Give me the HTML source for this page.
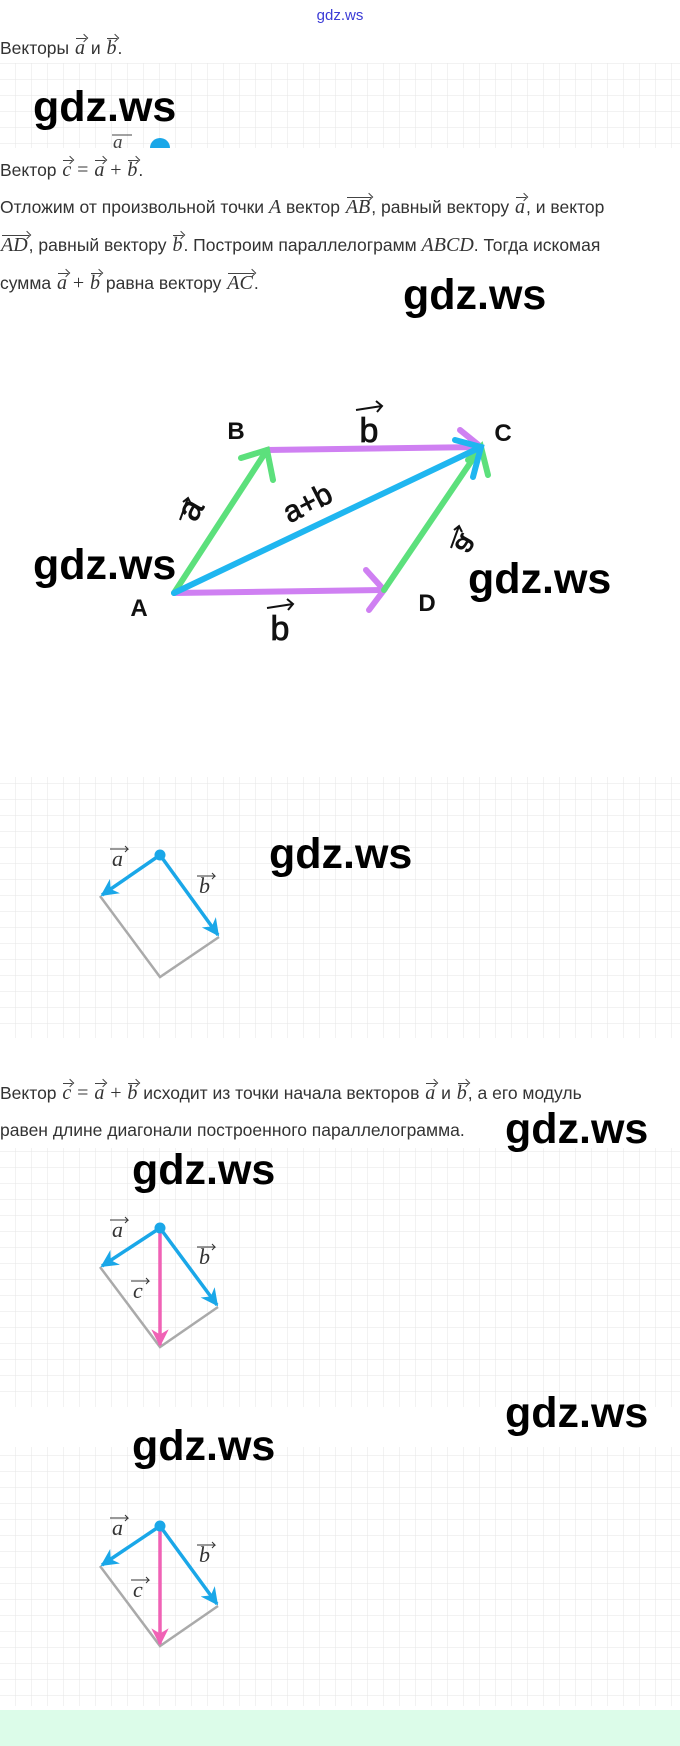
<!DOCTYPE html>
<html><head><meta charset="utf-8">
<style>
body{margin:0;width:680px;height:1746px;position:relative;background:#fff;overflow:hidden;font-family:"Liberation Sans",sans-serif;color:#333}
.t{position:absolute;left:0;font-size:17.5px;white-space:nowrap;line-height:20px}
.v{position:relative;font-family:"Liberation Serif",serif;font-style:italic;font-size:20px;display:inline-block;padding:0 1px}
.v::after{content:"";position:absolute;left:2px;right:0;top:0;border-top:1px solid #444}
.v::before{content:"";position:absolute;right:-1px;top:-3px;width:5px;height:5px;border-right:1px solid #444;border-top:1px solid #444;transform:rotate(45deg)}
.m{font-family:"Liberation Serif",serif;font-style:italic;font-size:20px}
.wm{position:absolute;font-size:43px;font-weight:bold;color:#000;line-height:46px;font-family:"Liberation Sans",sans-serif}
</style></head><body>
<svg width="680" height="1746" style="position:absolute;left:0;top:0">
<defs>
<pattern id="g" width="16" height="16" patternUnits="userSpaceOnUse"><path d="M16 0V16M0 16H16" stroke="#e6e6e6" stroke-width="1" fill="none"/></pattern>
<marker id="bl" viewBox="0 0 10 10" refX="9" refY="5" markerWidth="5" markerHeight="5" orient="auto"><path d="M0 0L10 5L0 10L3 5Z" fill="#1aa7e8"/></marker>
<marker id="pk" viewBox="0 0 10 10" refX="9" refY="5" markerWidth="5" markerHeight="5" orient="auto"><path d="M0 0L10 5L0 10L3 5Z" fill="#f062b5"/></marker>
</defs>
<rect x="0" y="63" width="680" height="85" fill="url(#g)"/>
<rect x="0" y="777" width="680" height="261" fill="url(#g)"/>
<rect x="0" y="1148" width="680" height="259" fill="url(#g)"/>
<rect x="0" y="1447" width="680" height="259" fill="url(#g)"/>
<rect x="0" y="1710" width="680" height="36" fill="#dcfce9"/>
<text x="340" y="20" font-size="15" fill="#3b3bd6" text-anchor="middle" font-family="Liberation Sans">gdz.ws</text>
<path d="M150 148a10 10 0 0 1 20 0z" fill="#1aa7e8"/>
<text x="113" y="148" font-size="19" font-style="italic" font-family="Liberation Serif" fill="#444">a</text>
<line x1="112" y1="135" x2="132" y2="135" stroke="#444"/>
<g stroke-width="6" stroke-linecap="round" fill="none">
<line x1="174" y1="593" x2="384" y2="590" stroke="#cf80f2"/>
<polyline points="366,570 384,590 369,610" stroke="#cf80f2"/>
<line x1="267" y1="450" x2="481" y2="447" stroke="#cf80f2"/>
<polyline points="460,430 481,447" stroke="#cf80f2"/>
<line x1="174" y1="593" x2="267" y2="450" stroke="#5ce07c"/>
<polyline points="241,458 267,450 273,480" stroke="#5ce07c"/>
<line x1="384" y1="590" x2="481" y2="447" stroke="#5ce07c"/>
<polyline points="488,475 481,447 468,460" stroke="#5ce07c"/>
<line x1="174" y1="593" x2="481" y2="447" stroke="#1fb6f0"/>
<polyline points="455,440 481,447 473,477" stroke="#1fb6f0"/>
</g>
<g font-family="Liberation Sans" font-weight="bold" fill="#111" font-size="24">
<text x="236" y="439" text-anchor="middle">B</text>
<text x="139" y="616" text-anchor="middle">A</text>
<text x="503" y="441" text-anchor="middle">C</text>
<text x="427" y="611" text-anchor="middle">D</text>
</g>
<g font-family="Liberation Sans" fill="#111" font-size="34" text-anchor="middle" stroke="#111" stroke-width="0.8">
<text x="369" y="442">b</text>
<text x="280" y="640">b</text>
<text transform="translate(200,515) rotate(-60)">a</text>
<text transform="translate(458,540) rotate(-60) scale(1,-1)" font-size="30">a</text>
<text transform="translate(312,512) rotate(-27)" font-size="30">a+b</text>
</g>
<g stroke="#111" stroke-width="2" fill="none">
<line x1="356" y1="410" x2="382" y2="406"/><path d="M376 401l6 5-5 6"/>
<line x1="267" y1="608" x2="293" y2="604"/><path d="M287 599l6 5-5 6"/>
<path d="M180 520l8-22M183 502l5-4 3 6"/>
<path d="M451 548l8-22M454 530l5-4 3 6"/>
</g>
<g stroke="#aaa" stroke-width="2.5" fill="none"><polyline points="100,896 160,977 219,937"/></g>
<line x1="160" y1="855" x2="102" y2="895" stroke="#1aa7e8" stroke-width="3.5" marker-end="url(#bl)"/>
<line x1="160" y1="855" x2="218" y2="935" stroke="#1aa7e8" stroke-width="3.5" marker-end="url(#bl)"/>
<circle cx="160" cy="855" r="5.5" fill="#1aa7e8"/>
<g stroke="#aaa" stroke-width="2.5" fill="none"><polyline points="100,1267 160,1347 218,1307"/></g>
<line x1="160" y1="1228" x2="160" y2="1345" stroke="#f062b5" stroke-width="3.5" marker-end="url(#pk)"/>
<line x1="160" y1="1228" x2="102" y2="1266" stroke="#1aa7e8" stroke-width="3.5" marker-end="url(#bl)"/>
<line x1="160" y1="1228" x2="217" y2="1305" stroke="#1aa7e8" stroke-width="3.5" marker-end="url(#bl)"/>
<circle cx="160" cy="1228" r="5.5" fill="#1aa7e8"/>
<g stroke="#aaa" stroke-width="2.5" fill="none"><polyline points="100,1566 160,1646 218,1606"/></g>
<line x1="160" y1="1526" x2="160" y2="1644" stroke="#f062b5" stroke-width="3.5" marker-end="url(#pk)"/>
<line x1="160" y1="1526" x2="102" y2="1565" stroke="#1aa7e8" stroke-width="3.5" marker-end="url(#bl)"/>
<line x1="160" y1="1526" x2="217" y2="1604" stroke="#1aa7e8" stroke-width="3.5" marker-end="url(#bl)"/>
<circle cx="160" cy="1526" r="5.5" fill="#1aa7e8"/>
<g font-family="Liberation Serif" font-style="italic" font-size="22" fill="#333">
<text x="112" y="866">a</text><text x="199" y="893">b</text>
<text x="112" y="1237">a</text><text x="199" y="1264">b</text><text x="133" y="1298">c</text>
<text x="112" y="1535">a</text><text x="199" y="1562">b</text><text x="133" y="1597">c</text>
</g>
<g stroke="#333" stroke-width="1" fill="none">
<path d="M110 849h18l-3-3M128 849l-3 3M197 876h18l-3-3M215 876l-3 3"/>
<path d="M110 1220h18l-3-3M128 1220l-3 3M197 1247h18l-3-3M215 1247l-3 3M131 1281h18l-3-3M149 1281l-3 3"/>
<path d="M110 1518h18l-3-3M128 1518l-3 3M197 1545h18l-3-3M215 1545l-3 3M131 1580h18l-3-3M149 1580l-3 3"/>
</g>
</svg>

<div class="t" style="top:38px">Векторы <span class="v">a</span> и <span class="v">b</span>.</div>
<div class="t" style="top:160px">Вектор <span class="v">c</span> <span class="m" style="font-style:normal">=</span> <span class="v">a</span> <span class="m" style="font-style:normal">+</span> <span class="v">b</span>.</div>
<div class="t" style="top:197px">Отложим от произвольной точки <span class="m">A</span> вектор <span class="v">AB</span>, равный вектору <span class="v">a</span>, и вектор</div>
<div class="t" style="top:235px"><span class="v">AD</span>, равный вектору <span class="v">b</span>. Построим параллелограмм <span class="m">ABCD</span>. Тогда искомая</div>
<div class="t" style="top:273px">сумма <span class="v">a</span> <span class="m" style="font-style:normal">+</span> <span class="v">b</span> равна вектору <span class="v">AC</span>.</div>
<div class="t" style="top:1083px">Вектор <span class="v">c</span> <span class="m" style="font-style:normal">=</span> <span class="v">a</span> <span class="m" style="font-style:normal">+</span> <span class="v">b</span> исходит из точки начала векторов <span class="v">a</span> и <span class="v">b</span>, а его модуль</div>
<div class="t" style="top:1120px">равен длине диагонали построенного параллелограмма.</div>

<div class="wm" style="left:33px;top:84px">gdz.ws</div>
<div class="wm" style="left:403px;top:272px">gdz.ws</div>
<div class="wm" style="left:33px;top:542px">gdz.ws</div>
<div class="wm" style="left:468px;top:556px">gdz.ws</div>
<div class="wm" style="left:269px;top:831px">gdz.ws</div>
<div class="wm" style="left:505px;top:1106px">gdz.ws</div>
<div class="wm" style="left:132px;top:1147px">gdz.ws</div>
<div class="wm" style="left:505px;top:1390px">gdz.ws</div>
<div class="wm" style="left:132px;top:1423px">gdz.ws</div>
</body></html>
